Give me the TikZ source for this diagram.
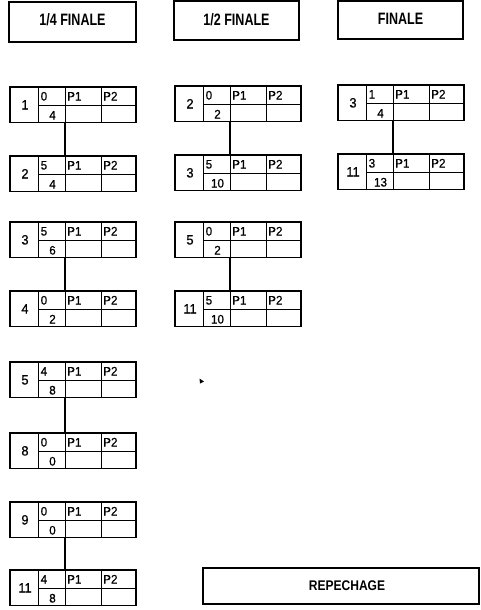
\documentclass[tikz,border=0pt]{standalone}
\usepackage{fontspec}
\setmainfont{Liberation Sans}
\newfontfamily\hdrfont{Liberation Sans}[FakeStretch=0.76]
\newfontfamily\repfont{Liberation Sans}[FakeStretch=0.86]
\newfontfamily\cellfont{Liberation Sans}[FakeStretch=0.95,FakeBold=0.6]
\tikzset{
  outerbox/.style={draw, line width=1.8pt, inner sep=0pt, minimum width=126pt, minimum height=35.5pt},
  hdrbox/.style={draw, line width=1.8pt, inner sep=0pt},
  innerline/.style={line width=1pt},
  conn/.style={line width=1.5pt},
  celltxt/.style={inner sep=0pt, font=\cellfont\fontsize{12.3}{13}\selectfont},
  numtxt/.style={inner sep=0pt, font=\cellfont\fontsize{13.5}{14}\selectfont},
  hdrtxt/.style={inner sep=0pt, font=\hdrfont\bfseries\fontsize{16.5}{18}\selectfont},
  reptxt/.style={inner sep=0pt, font=\repfont\bfseries\fontsize{14}{16}\selectfont}
}
% #1 name, #2 left x, #3 top y, #4 number, #5 top score, #6 bottom score
\newcommand{\matchbx}[6]{%
  \draw[innerline] (#2+28,#3) -- (#2+28,#3+35.5);
  \draw[innerline] (#2+55,#3) -- (#2+55,#3+35.5);
  \draw[innerline] (#2+91,#3) -- (#2+91,#3+35.5);
  \draw[innerline] (#2+28,#3+18) -- (#2+126,#3+18);
  \node[outerbox] (#1) at (#2+63,#3+17.75) {};
  \coordinate (#1t) at (#2+55,#3);
  \coordinate (#1b) at (#2+55,#3+35.5);
  \node[numtxt, anchor=base] (#1n) at (#2+15,#3+22.5) {#4};
  \node[celltxt, anchor=base west] (#1s) at (#2+30.5,#3+13.5) {#5};
  \node[celltxt, anchor=base] (#1r) at (#2+42.5,#3+32.5) {#6};
  \node[celltxt, anchor=base west] (#1p) at (#2+57,#3+13.5) {P1};
  \node[celltxt, anchor=base west] (#1q) at (#2+93,#3+13.5) {P2};
}
\begin{document}
\begin{tikzpicture}[x=1pt,y=-1pt]
\useasboundingbox (0,0) rectangle (480,610);
\fill[white] (0,0) rectangle (480,610);

% headers
\node[hdrbox, minimum width=127pt, minimum height=40pt] (h1) at (72.5,22) {};
\node[hdrtxt, anchor=base] (h1t) at (72.5,26) {1/4 FINALE};
\node[hdrbox, minimum width=125pt, minimum height=39pt] (h2) at (236.5,20.5) {};
\node[hdrtxt, anchor=base] (h2t) at (236.5,26) {1/2 FINALE};
\node[hdrbox, minimum width=125pt, minimum height=38.5pt] (h3) at (400.5,20) {};
\node[hdrtxt, anchor=base] (h3t) at (400.5,25) {FINALE};

% column 1
\matchbx{a1}{10}{87}{1}{0}{4}
\matchbx{a2}{10}{156}{2}{5}{4}
\matchbx{a3}{10}{222}{3}{5}{6}
\matchbx{a4}{10}{291}{4}{0}{2}
\matchbx{a5}{10}{362}{5}{4}{8}
\matchbx{a6}{10}{433}{8}{0}{0}
\matchbx{a7}{10}{502}{9}{0}{0}
\matchbx{a8}{10}{570}{11}{4}{8}

% column 2
\matchbx{b1}{175}{86}{2}{0}{2}
\matchbx{b2}{175}{155}{3}{5}{10}
\matchbx{b3}{175}{222}{5}{0}{2}
\matchbx{b4}{175}{291}{11}{5}{10}

% column 3
\matchbx{c1}{338}{85}{3}{1}{4}
\matchbx{c2}{338}{154}{11}{3}{13}

% connectors
\draw[conn] (a1b) -- (a2t);
\draw[conn] (a3b) -- (a4t);
\draw[conn] (a5b) -- (a6t);
\draw[conn] (a7b) -- (a8t);
\draw[conn] (b1b) -- (b2t);
\draw[conn] (b3b) -- (b4t);
\draw[conn] (c1b) -- (c2t);

% repechage
\node[hdrbox, minimum width=276pt, minimum height=36pt] (rep) at (341,586) {};
\node[reptxt, anchor=base] (rept) at (347,590) {REPECHAGE};

% stray mark
\fill (199.5,378.5) -- (204,381.5) -- (200,383.5) -- cycle;
\end{tikzpicture}
\end{document}
